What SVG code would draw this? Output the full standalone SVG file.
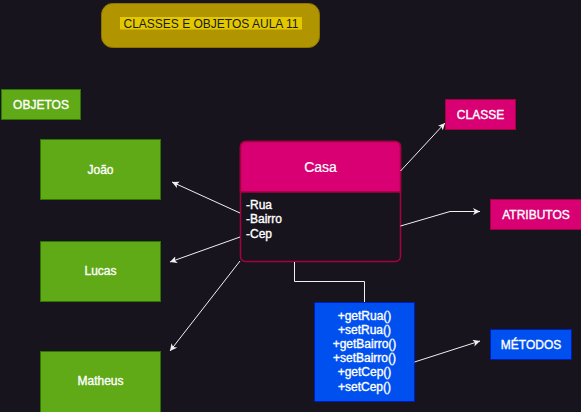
<svg xmlns="http://www.w3.org/2000/svg" width="581" height="412" viewBox="0 0 581 412">
<defs>
<marker id="arr" markerWidth="8" markerHeight="8" refX="7" refY="3.5" orient="auto" markerUnits="userSpaceOnUse">
<path d="M0,0 L7,3.5 L0,7 L1.8,3.5 z" fill="#f0f0f0"/>
</marker>
<style>
text{font-family:"Liberation Sans",Arial,sans-serif;font-size:12px;fill:#ffffff;stroke:#ffffff;stroke-width:0.35}
.c{text-anchor:middle;dominant-baseline:central}
.green{fill:#60a917;stroke:#2d7600;stroke-width:1}
.pink{fill:#d80073;stroke:#a50040;stroke-width:1}
.blue{fill:#0050ef;stroke:#001dbc;stroke-width:1}
.edge{fill:none;stroke:#f0f0f0;stroke-width:1}
</style>
</defs>
<rect width="581" height="412" fill="#18141d"/>
<g id="title">
<rect x="101.5" y="3.5" width="218" height="44" rx="11" fill="#b09500" stroke="#8c7600"/>
<rect x="120" y="17" width="182" height="12.5" fill="#e3c800"/>
<text class="c" x="211" y="23.5" style="fill:#1a1a1a;stroke:none">CLASSES E OBJETOS AULA 11</text>
</g>
<g id="objetos">
<rect class="green" x="1.5" y="89.5" width="79" height="30"/>
<text class="c" x="41" y="104.5">OBJETOS</text>
</g>
<g id="joao">
<rect class="green" x="40.5" y="139.5" width="120" height="60"/>
<text class="c" x="100.5" y="169.5">João</text>
</g>
<g id="lucas">
<rect class="green" x="40.5" y="241.5" width="120" height="60"/>
<text class="c" x="100.5" y="271">Lucas</text>
</g>
<g id="matheus">
<rect class="green" x="40.5" y="351.5" width="120" height="62"/>
<text class="c" x="100.5" y="381">Matheus</text>
</g>
<g id="casa">
<rect x="240.5" y="141.5" width="160" height="120" rx="5" fill="#18141d" stroke="#a50040" stroke-width="1.5"/>
<path d="M240.5,192 V146.5 a5,5 0 0 1 5,-5 H395.5 a5,5 0 0 1 5,5 V192 Z" fill="#d80073" stroke="#a50040" stroke-width="1.5"/>
<text class="c" x="320.5" y="166.5" style="font-size:14px;stroke-width:0.2">Casa</text>
<text x="246" y="209">-Rua</text>
<text x="246" y="222.5">-Bairro</text>
<text x="246" y="238">-Cep</text>
</g>
<g id="metodos-box">
<rect class="blue" x="314.5" y="302.5" width="100" height="99"/>
<text class="c" x="364.5" y="315.5">+getRua()</text>
<text class="c" x="364.5" y="329.5">+setRua()</text>
<text class="c" x="364.5" y="343.5">+getBairro()</text>
<text class="c" x="364.5" y="358">+setBairro()</text>
<text class="c" x="364.5" y="372">+getCep()</text>
<text class="c" x="364.5" y="386.5">+setCep()</text>
</g>
<g id="classe">
<rect class="pink" x="445.5" y="99.5" width="70" height="30"/>
<text class="c" x="480.5" y="114.5">CLASSE</text>
</g>
<g id="atributos">
<rect class="pink" x="490.5" y="199.5" width="91" height="30"/>
<text class="c" x="536" y="214.5">ATRIBUTOS</text>
</g>
<g id="metodos">
<rect class="blue" x="490.5" y="329.5" width="81" height="30"/>
<text class="c" x="531" y="344.5">MÉTODOS</text>
</g>
<g id="connectors">
<line class="edge" x1="240" y1="213" x2="172" y2="182" marker-end="url(#arr)"/>
<line class="edge" x1="240" y1="237" x2="170" y2="262" marker-end="url(#arr)"/>
<line class="edge" x1="240" y1="261" x2="170" y2="351" marker-end="url(#arr)"/>
<line class="edge" x1="400.5" y1="171" x2="445" y2="123" marker-end="url(#arr)"/>
<polyline class="edge" points="400.5,226 450,211.5 480,211.5" marker-end="url(#arr)"/>
<line class="edge" x1="414.5" y1="362" x2="480" y2="341" marker-end="url(#arr)"/>
<polyline class="edge" points="294.5,262 294.5,281.5 364.5,281.5 364.5,302"/>
</g>
</svg>
